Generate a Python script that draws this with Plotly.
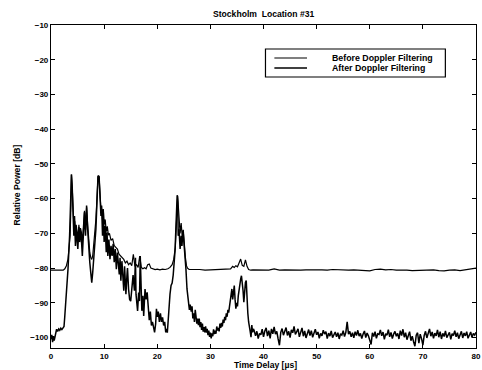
import plotly.graph_objects as go

# ---------------- data ----------------
TITLE = "Stockholm  Location #31"
X_LABEL = "Time Delay [µs]"
Y_LABEL = "Relative Power [dB]"
SERIES_NAMES = ["Before Doppler Filtering", "After Doppler Filtering"]

X_TICKS = [0, 10, 20, 30, 40, 50, 60, 70, 80]
Y_TICKS = [-100, -90, -80, -70, -60, -50, -40, -30, -20, -10]

X_BEFORE = [0, 0.5, 1, 1.5, 2, 2.3, 2.6, 2.9, 3.2, 3.4, 3.6, 3.75, 3.85, 4.0, 4.15,
            4.3, 4.45, 4.6, 4.75, 4.9, 5.05, 5.25, 5.4, 5.55, 5.7, 5.9, 6.1, 6.3, 6.5,
            6.7, 6.9, 7.1, 7.3, 7.5, 7.67, 7.85, 8.15, 8.45, 8.65, 8.85, 9.05, 9.25,
            9.4, 9.55, 9.7, 9.85, 10.0, 10.2, 10.4, 10.6, 10.8, 11.0, 11.3, 11.6, 11.9,
            12.2, 12.5, 12.8, 13.1, 13.4, 13.7, 14.0, 14.3, 14.6, 14.9, 15.2, 15.5,
            15.8, 16.1, 16.4, 16.7, 17.0, 17.3, 17.6, 17.9, 18.2, 18.5, 18.8, 19.2,
            19.6, 20, 20.5, 21, 21.5, 22, 22.4, 22.8, 23.1, 23.4, 23.6, 23.75, 23.85,
            24.0, 24.15, 24.3, 24.5, 24.7, 24.9, 25.1, 25.3, 25.5, 25.7, 26.0, 26.5,
            27, 28, 29, 30, 31, 32, 33, 33.8, 34.2, 34.5, 34.8, 35.1, 35.4, 35.7, 36.0,
            36.3, 36.6, 36.9, 37.2, 37.6, 38, 39, 40, 41, 42, 43, 44, 45, 46, 47, 48,
            49, 50, 51, 52, 53, 54, 55, 56, 57, 58, 59, 60, 61, 62, 63, 64, 65, 66, 67,
            68, 69, 70, 71, 72, 73, 74, 75, 76, 77, 78, 79, 80]
Y_BEFORE = [-80.6, -80.5, -80.6, -80.6, -80.5, -80.6, -80.2, -79.3, -77.4, -74.5,
            -70.7, -62.0, -53.2, -57.0, -64.0, -67.5, -65.0, -70.5, -67.5, -69.5,
            -71.5, -67.5, -70.5, -68.5, -69.5, -72.5, -66.0, -63.5, -69.0, -62.5,
            -67.5, -72.0, -75.5, -77.0, -77.5, -76.5, -72.0, -66.0, -60.0, -53.6,
            -53.8, -59.0, -63.0, -62.0, -66.0, -63.0, -67.5, -66.0, -69.5, -68.0,
            -70.5, -70.0, -72.0, -71.5, -73.5, -74.0, -74.5, -76.0, -76.5, -77.0,
            -77.5, -78.5, -78.0, -79.0, -78.5, -79.3, -76.0, -79.5, -79.0, -79.8,
            -76.5, -79.8, -80.2, -79.9, -80.2, -79.0, -78.8, -80.0, -80.3, -80.4,
            -80.3, -80.5, -80.3, -80.4, -80.2, -79.8, -79.0, -77.5, -74.0, -66.0,
            -60.0, -59.2, -63.0, -66.0, -70.0, -67.0, -71.0, -69.0, -74.0, -77.0,
            -79.3, -80.0, -80.4, -80.5, -80.4, -80.4, -80.6, -80.5, -80.4, -80.5,
            -80.4, -80.2, -79.5, -79.8, -79.3, -79.6, -78.5, -77.4, -79.2, -79.5,
            -77.6, -79.5, -80.4, -80.6, -80.5, -80.6, -80.5, -80.6, -80.2, -80.6,
            -80.5, -80.6, -80.5, -80.6, -80.5, -80.6, -80.5, -80.5, -80.6, -80.4,
            -80.5, -80.5, -80.6, -80.5, -80.6, -80.7, -80.8, -80.4, -80.3, -80.5,
            -80.4, -80.6, -80.5, -80.6, -80.7, -80.6, -80.5, -80.6, -80.5, -80.7,
            -80.8, -80.6, -80.5, -80.7, -80.5, -80.2, -80.0]

X_AFTER = [0.0, 0.15, 0.3, 0.45, 0.6, 0.75, 0.9, 1.05, 1.25, 1.45, 1.65, 1.85, 2.05,
           2.25, 2.45, 2.6, 2.9, 3.2, 3.5, 3.7, 3.85, 4.0, 4.15, 4.3, 4.45, 4.6, 4.75,
           4.9, 5.05, 5.25, 5.4, 5.55, 5.7, 5.9, 6.1, 6.3, 6.5, 6.7, 6.9, 7.1, 7.3,
           7.5, 7.67, 7.85, 8.15, 8.45, 8.65, 8.85, 9.05, 9.25, 9.4, 9.55, 9.7, 9.85,
           10.0, 10.2, 10.4, 10.55, 10.7, 10.9, 11.1, 11.3, 11.5, 11.7, 11.9, 12.1,
           12.3, 12.5, 12.7, 12.85, 13.0, 13.15, 13.35, 13.55, 13.7, 13.85, 14.1,
           14.3, 14.4, 14.6, 14.8, 15.0, 15.2, 15.45, 15.7, 15.9, 16.0, 16.3, 16.5,
           16.65, 16.8, 16.95, 17.1, 17.3, 17.45, 17.7, 17.9, 18.1, 18.3, 18.5, 18.7,
           18.9, 19.1, 19.3, 19.5, 19.7, 19.85, 20.0, 20.2, 20.4, 20.6, 20.8, 21.0,
           21.2, 21.4, 21.6, 21.75, 21.9, 22.05, 22.2, 22.4, 22.6, 22.8, 23.0, 23.2,
           23.35, 23.5, 23.65, 23.75, 23.85, 23.95, 24.1, 24.3, 24.5, 24.65, 24.85,
           25.05, 25.2, 25.4, 25.6, 25.85, 26.05, 26.2, 26.4, 26.55, 26.7, 26.85,
           27.0, 27.15, 27.3, 27.45, 27.6, 27.75, 27.9, 28.05, 28.2, 28.35, 28.5,
           28.65, 28.8, 28.95, 29.1, 29.25, 29.4, 29.55, 29.7, 29.85, 30.0, 30.15,
           30.3, 30.45, 30.6, 30.75, 30.9, 31.05, 31.2, 31.35, 31.5, 31.65, 31.8,
           31.95, 32.1, 32.25, 32.4, 32.55, 32.7, 32.85, 33.0, 33.15, 33.3, 33.45,
           33.6, 33.75, 33.9, 34.05, 34.2, 34.35, 34.5, 34.65, 34.8, 34.95, 35.1,
           35.25, 35.4, 35.55, 35.7, 35.85, 36.0, 36.15, 36.3, 36.45, 36.6, 36.75,
           36.9, 37.05, 37.2, 37.35, 37.5, 37.65, 37.8, 37.95, 38.1,
           38.25, 38.5, 38.75, 39.0, 39.25, 39.5, 39.75, 40.0,
           40.25, 40.5, 40.75, 41.0, 41.25, 41.5, 41.75, 42.0,
           42.25, 42.5, 42.75, 43.0, 43.25, 43.5, 43.75, 44.0,
           44.25, 44.5, 44.75, 45.0, 45.25, 45.5, 45.75, 46.0,
           46.25, 46.5, 46.75, 47.0, 47.25, 47.5, 47.75, 48.0,
           48.25, 48.5, 48.75, 49.0, 49.25, 49.5, 49.75, 50.0,
           50.25, 50.5, 50.75, 51.0, 51.25, 51.5, 51.75, 52.0,
           52.25, 52.5, 52.75, 53.0, 53.25, 53.5, 53.75, 54.0,
           54.25, 54.5, 54.75, 55.0, 55.25, 55.5, 55.75, 56.0,
           56.25, 56.5, 56.75, 57.0, 57.25, 57.5, 57.75, 58.0,
           58.25, 58.5, 58.75, 59.0, 59.25, 59.5, 59.75, 60.0,
           60.25, 60.5, 60.75, 61.0, 61.25, 61.5, 61.75, 62.0,
           62.25, 62.5, 62.75, 63.0, 63.25, 63.5, 63.75, 64.0,
           64.25, 64.5, 64.75, 65.0, 65.25, 65.5, 65.75, 66.0,
           66.25, 66.5, 66.75, 67.0, 67.25, 67.5, 67.75, 68.0,
           68.25, 68.5, 68.75, 69.0, 69.25, 69.5, 69.75, 70.0,
           70.25, 70.5, 70.75, 71.0, 71.25, 71.5, 71.75, 72.0,
           72.25, 72.5, 72.75, 73.0, 73.25, 73.5, 73.75, 74.0,
           74.25, 74.5, 74.75, 75.0, 75.25, 75.5, 75.75, 76.0,
           76.25, 76.5, 76.75, 77.0, 77.25, 77.5, 77.75, 78.0,
           78.25, 78.5, 78.75, 79.0, 79.25, 79.5, 79.75, 80.0]
Y_AFTER = [-100.5, -99.2, -101.3, -99.6, -100.9, -99.4, -98.6, -97.6, -98.2, -97.5,
           -97.9, -97.3, -97.7, -97.4, -96.8, -93.8, -88.0, -80.3, -70.7, -61.0,
           -53.0, -57.0, -65.0, -70.7, -66.5, -73.6, -68.8, -71.8, -74.5, -68.2,
           -72.5, -69.5, -71.2, -76.5, -66.8, -63.9, -70.7, -62.0, -68.8, -74.5,
           -78.3, -81.5, -84.2, -81.3, -75.4, -68.8, -61.0, -53.4, -53.6, -61.0,
           -65.0, -63.0, -70.7, -64.0, -72.5, -67.8, -75.4, -69.7, -76.5, -71.8,
           -77.4, -73.6, -76.5, -73.0, -78.3, -74.5, -80.3, -75.5, -79.3, -81.8,
           -77.0, -83.6, -78.0, -84.5, -86.5, -79.5, -87.5, -82.0, -80.0, -86.0,
           -89.0, -89.5, -85.0, -82.0, -86.5, -77.0, -87.5, -92.3, -87.0, -89.5,
           -76.5, -90.0, -92.3, -88.0, -93.8, -86.0, -89.0, -87.0, -93.0, -95.0,
           -92.5, -96.5, -95.5, -97.0, -98.5, -96.0, -91.7, -94.0, -92.5, -95.5,
           -93.0, -95.5, -94.2, -96.5, -95.5, -98.5, -97.5, -98.6, -95.0, -91.0,
           -87.5, -85.0, -84.3, -82.0, -78.0, -75.0, -68.8, -62.0, -59.0, -61.0,
           -70.7, -68.8, -74.5, -70.7, -73.6, -69.2, -73.0, -74.5, -80.3, -86.0,
           -89.8, -92.0, -90.5, -92.5, -91.0, -94.5, -93.0, -95.5, -92.0, -94.0,
           -96.0, -94.5, -96.4, -94.5, -97.0, -95.5, -97.8, -96.0, -98.3, -97.0,
           -98.5, -96.8, -98.6, -97.5, -99.3, -98.0, -99.8, -98.6, -100.2, -98.8,
           -99.6, -97.6, -99.0, -98.0, -98.9, -96.8, -98.0, -97.2, -98.2, -96.0,
           -97.2, -95.8, -96.8, -94.8, -95.8, -94.0, -95.0, -93.0, -94.0, -92.0,
           -92.8, -91.0, -89.5, -88.0, -86.0, -89.0, -87.0, -85.0, -89.0, -91.7,
           -90.0, -91.0, -88.0, -86.0, -84.0, -83.2, -82.2, -84.0, -86.5, -89.8,
           -86.0, -84.1, -83.6, -89.8, -93.0, -95.5, -96.5, -98.3, -99.9, -96.4,
           -98.5, -97.5,
           -98.0, -99.5, -98.2, -100.3, -98.8, -99.2, -97.6, -99.8,
           -98.1, -97.2, -99.6, -98.0, -100.2, -97.5, -98.9, -96.9,
           -99.0, -98.2, -100.4, -102.2, -98.5, -97.4, -99.3, -98.0,
           -97.1, -99.4, -98.2, -100.0, -97.8, -98.6, -96.8, -99.1,
           -98.3, -97.5, -99.8, -98.4, -97.2, -99.6, -98.1, -100.1,
           -98.6, -97.7, -99.4, -98.0, -99.9, -98.5, -97.6, -99.2,
           -98.4, -100.2, -98.8, -99.5, -97.9, -99.0, -98.3, -100.3,
           -98.7, -99.6, -98.1, -100.0, -99.2, -98.4, -99.8, -98.6,
           -100.4, -98.9, -99.3, -98.0, -99.7, -98.5, -95.5, -99.0,
           -98.2, -99.8, -98.6, -100.1, -98.3, -99.4, -97.9, -99.6,
           -98.8, -100.3, -99.0, -98.1, -100.0, -98.7, -99.5, -100.8,
           -102.0, -98.6, -99.7, -98.3, -100.2, -98.9, -99.1, -97.8,
           -99.5, -98.4, -100.5, -98.9, -99.3, -97.7, -99.8, -98.5,
           -100.3, -99.0, -98.2, -99.6, -98.8, -100.4, -98.0, -99.4,
           -97.6, -99.9, -98.6, -100.6, -99.1, -98.3, -100.9, -99.6,
           -101.2, -102.5, -99.3, -98.6, -101.6, -99.0, -100.3, -102.2,
           -99.4, -98.2, -100.1, -98.9, -97.5, -99.6, -98.4, -100.2,
           -98.7, -99.5, -97.8, -99.9, -98.3, -100.4, -98.8, -99.7,
           -98.1, -100.0, -99.2, -98.5, -100.5, -98.9, -99.4, -98.0,
           -99.8, -98.6, -100.3, -99.0, -98.2, -100.1, -98.7, -99.5,
           -98.3, -100.2, -99.1, -98.4, -100.0, -98.8, -99.3, -98.5]

X_RANGE = [0, 80]
Y_RANGE = [-103, -10]

# ---------------- figure ----------------
W, H = 482, 370
ML, MR, MT, MB = 51, 1, 25, 22
PW, PH = W - ML - MR, H - MT - MB
FONT = "Liberation Sans, Arial, sans-serif"
TICK_TXT = dict(family=FONT, size=8, color="black", weight="bold")
LABEL_TXT = dict(family=FONT, size=8.6, color="black", weight="bold")
LEG_TXT = dict(family=FONT, size=8.8, color="black", weight="bold")


def px(xpix):
    return (xpix - ML) / PW


def py(ypix):
    return (H - MB - ypix) / PH


fig = go.Figure()
fig.add_trace(go.Scatter(x=X_BEFORE, y=Y_BEFORE, mode="lines", name=SERIES_NAMES[0],
                         line=dict(color="black", width=1.2)))
fig.add_trace(go.Scatter(x=X_AFTER, y=Y_AFTER, mode="lines", name=SERIES_NAMES[1],
                         line=dict(color="black", width=1.5)))

axis_common = dict(showgrid=False, zeroline=False, showline=True, linecolor="black",
                   linewidth=1.2, mirror="ticks", ticks="inside", ticklen=4,
                   tickcolor="black", tickwidth=1.2, ticklabeloverflow="allow",
                   tickfont=TICK_TXT)

fig.update_xaxes(range=X_RANGE, tickvals=X_TICKS, **axis_common)
fig.update_yaxes(range=Y_RANGE, tickvals=Y_TICKS, **axis_common)

# legend drawn as a boxed key (matching the original MATLAB legend)
legend_shapes = [
    dict(type="rect", xref="paper", yref="paper", x0=px(268), x1=px(450),
         y0=py(77), y1=py(49), line=dict(color="black", width=1.2),
         fillcolor="white", layer="above"),
    dict(type="line", xref="paper", yref="paper", x0=px(277), x1=px(310),
         y0=py(58), y1=py(58), line=dict(color="black", width=1.2)),
    dict(type="line", xref="paper", yref="paper", x0=px(277), x1=px(310),
         y0=py(68), y1=py(68), line=dict(color="black", width=1.5)),
]

annotations = [
    dict(text=TITLE, xref="paper", yref="paper", x=px(266), y=py(14),
         showarrow=False, xanchor="center", yanchor="middle", font=LABEL_TXT),
    dict(text=X_LABEL, xref="paper", yref="paper", x=px(268), y=py(365),
         showarrow=False, xanchor="center", yanchor="middle", font=LABEL_TXT),
    dict(text=Y_LABEL, xref="paper", yref="paper", x=px(17), y=py(185),
         showarrow=False, xanchor="center", yanchor="middle", textangle=-90,
         font=LABEL_TXT),
    dict(text=SERIES_NAMES[0], xref="paper", yref="paper", x=px(333), y=py(58),
         showarrow=False, xanchor="left", yanchor="middle", font=LEG_TXT),
    dict(text=SERIES_NAMES[1], xref="paper", yref="paper", x=px(333), y=py(68),
         showarrow=False, xanchor="left", yanchor="middle", font=LEG_TXT),
]

fig.update_layout(width=W, height=H, margin=dict(l=ML, r=MR, t=MT, b=MB),
                  plot_bgcolor="white", paper_bgcolor="white", showlegend=False,
                  shapes=legend_shapes, annotations=annotations)

fig.write_html("out.html")
